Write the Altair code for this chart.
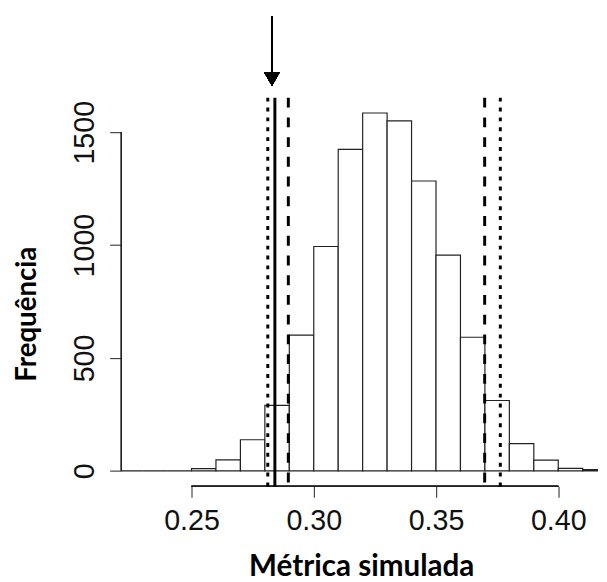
import altair as alt
import pandas as pd

# ---- data ----
bin_starts = [0.21, 0.22, 0.23, 0.24, 0.25, 0.26, 0.27, 0.28, 0.29, 0.30, 0.31,
              0.32, 0.33, 0.34, 0.35, 0.36, 0.37, 0.38, 0.39, 0.40, 0.41]
bin_ends = [0.22, 0.23, 0.24, 0.25, 0.26, 0.27, 0.28, 0.29, 0.30, 0.31, 0.32,
            0.33, 0.34, 0.35, 0.36, 0.37, 0.38, 0.39, 0.40, 0.41, 0.42]
counts = [0, 0, 0, 0, 10, 49, 138, 290, 601, 994, 1424,
          1585, 1550, 1284, 956, 592, 312, 121, 48, 11, 6]
x_ticks = [0.25, 0.30, 0.35, 0.40]
y_ticks = [0, 500, 1000, 1500]
dotted_lines = [0.2812, 0.3763]
solid_lines = [0.2841]
dashed_lines = [0.2896, 0.3699]
arrow_x = 0.2829
x_title = "Métrica simulada"
y_title = "Frequência"

# ---- layout ----
W, H = 483, 394
xs = alt.Scale(domain=[0.22135, 0.41626], nice=False, zero=False)
ys = alt.Scale(domain=[-68.6, 1653], nice=False, zero=False)

x_axis = alt.Axis(
    values=x_ticks, format=".2f", domain=False, grid=False,
    tickSize=11, tickColor="#222222", tickWidth=1,
    labelFont="Liberation Sans", labelFontSize=29, labelColor="#111111",
    labelPadding=10, labelFlush=False, labelAngle=0,
    labelBaseline="top", labelAlign="center",
    title=x_title, titleFont="Lato", titleFontSize=30,
    titleFontWeight="bold", titleColor="black",
    titleBaseline="alphabetic", titleY=90, titleX=243, titleAlign="center")

y_axis = alt.Axis(
    values=y_ticks, format="d", domain=False, grid=False,
    tickSize=12, tickColor="#222222", tickWidth=1,
    labelFont="Liberation Sans", labelFontSize=29, labelColor="#111111",
    labelPadding=16, labelAngle=270, labelAlign="center",
    labelBaseline="alphabetic",
    title=y_title, titleFont="Lato", titleFontSize=28,
    titleFontWeight="bold", titleColor="black", titleAngle=270,
    titleBaseline="alphabetic", titleX=-87, titleY=219, titleAlign="center")

df = pd.DataFrame({"start": bin_starts, "end": bin_ends, "count": counts,
                   "zero": [0] * len(counts)})

bars = alt.Chart(df).mark_rect(fill="white", stroke="#222222", strokeWidth=1.2,
                               clip=True).encode(
    x=alt.X("start:Q", scale=xs, axis=x_axis),
    x2="end:Q",
    y=alt.Y("count:Q", scale=ys, axis=y_axis),
    y2="zero:Q",
)

x_axis_line = alt.Chart(df).mark_rule(color="#222222", strokeWidth=1).encode(
    x=alt.datum(x_ticks[0]), x2=alt.datum(x_ticks[-1]), y=alt.value(H))

y_axis_line = alt.Chart(df).mark_rule(color="#222222", strokeWidth=1).encode(
    x=alt.value(0), y=alt.datum(y_ticks[0]), y2=alt.datum(y_ticks[-1]))

dotted = alt.Chart(pd.DataFrame({"start": dotted_lines})).mark_rule(
    color="black", strokeWidth=3, strokeDash=[4, 6]).encode(
    x=alt.X("start:Q", scale=xs, axis=x_axis), y=alt.value(0), y2=alt.value(H))

solid = alt.Chart(pd.DataFrame({"start": solid_lines})).mark_rule(
    color="black", strokeWidth=3).encode(
    x=alt.X("start:Q", scale=xs, axis=x_axis), y=alt.value(0), y2=alt.value(H))

dashed = alt.Chart(pd.DataFrame({"start": dashed_lines})).mark_rule(
    color="black", strokeWidth=3, strokeDash=[10, 10]).encode(
    x=alt.X("start:Q", scale=xs, axis=x_axis), y=alt.value(0), y2=alt.value(H))

arrow_shaft = alt.Chart(df).mark_rule(color="black", strokeWidth=1.5).encode(
    x=alt.datum(arrow_x), y=alt.value(-82), y2=alt.value(-25))

arrow_head = alt.Chart(df).mark_point(
    shape="triangle-down", filled=True, size=256, color="black", opacity=1).encode(
    x=alt.datum(arrow_x), y=alt.value(-19))

chart = alt.layer(
    bars, x_axis_line, y_axis_line, dotted, solid, dashed, arrow_shaft, arrow_head
).properties(
    width=W, height=H, autosize="none",
    padding={"left": 115, "top": 87, "right": 1, "bottom": 93},
    background="white",
).configure_view(stroke=None)

chart.save("out.html", embed_options={"renderer": "svg", "actions": False})
